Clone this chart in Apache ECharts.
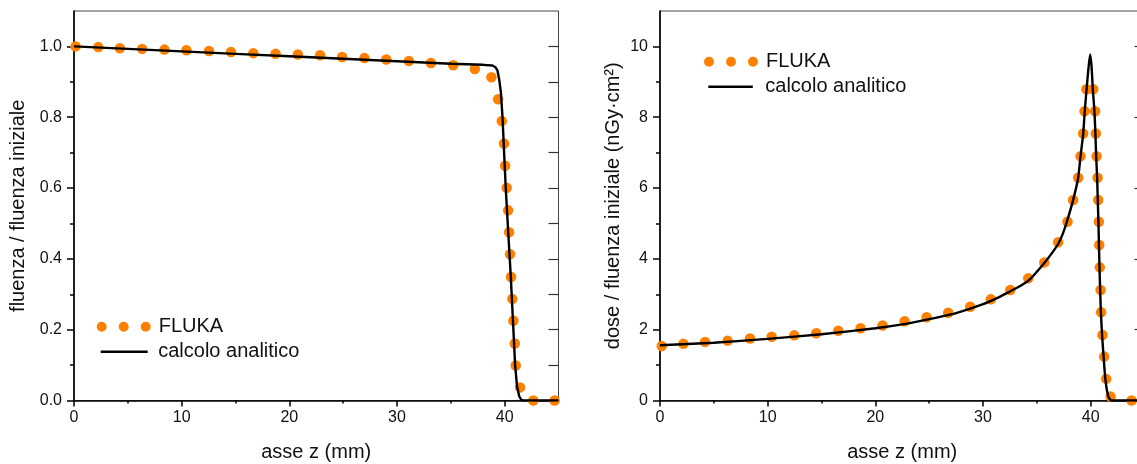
<!DOCTYPE html>
<html><head><meta charset="utf-8">
<script src="https://cdn.jsdelivr.net/npm/echarts@6/dist/echarts.min.js"></script>
<style>html,body{margin:0;padding:0;background:#fff}#c{width:1137px;height:464px}</style>
</head><body><div id="c"></div>
<script>
// ---- tick labels ----
const xTickLabels = [0, 10, 20, 30, 40];
const xMinorTicks = [5, 15, 25, 35];
const fluTickLabels = [0, 0.2, 0.4, 0.6, 0.8, 1.0];
const fluMinorTicks = [0.1, 0.3, 0.5, 0.7, 0.9];
const fluRightTicks = [0.1, 0.2, 0.3, 0.4, 0.5, 0.6, 0.7, 0.8, 0.9, 1.0];
const doseTickLabels = [0, 2, 4, 6, 8, 10];
const doseMinorTicks = [1, 3, 5, 7, 9];
const doseRightTicks = [2, 4, 6, 8, 10];

// ---- left panel: fluence ----
const flukaFluZ = [0.15,2.25,4.26,6.33,8.40,10.44,12.54,14.58,16.65,18.72,20.79,22.86,24.90,26.97,29.0,31.1,33.15,35.22,37.23,38.77,39.39,39.73,39.94,40.04,40.19,40.32,40.41,40.50,40.59,40.71,40.81,40.94,41.03,41.43,42.66,44.64];
const flukaFlu  = [1.000,0.998,0.995,0.993,0.991,0.989,0.987,0.984,0.981,0.979,0.977,0.975,0.970,0.967,0.963,0.959,0.953,0.947,0.936,0.913,0.851,0.789,0.726,0.663,0.601,0.537,0.475,0.413,0.349,0.287,0.225,0.161,0.099,0.037,0,0];
const analFluZ = [0,5,10,15,20,25,30,35,38,38.86,39.15,39.33,39.5,39.65,39.8,39.95,40.10,40.33,40.57,40.77,40.97,41.15,41.35,41.55,41.75,45];
const analFlu  = [1.000,0.993,0.986,0.979,0.972,0.965,0.958,0.951,0.948,0.946,0.941,0.932,0.905,0.87,0.80,0.70,0.60,0.475,0.35,0.225,0.10,0.04,0.012,0.002,0,0];

// ---- right panel: dose ----
const flukaDoseZ = [0.16,2.17,4.18,6.28,8.36,10.37,12.47,14.51,16.56,18.63,20.67,22.72,24.76,26.77,28.81,30.73,32.53,34.2,35.69,36.98,37.85,38.37,38.84,39.06,39.30,39.43,39.6,40.24,40.41,40.48,40.55,40.64,40.70,40.76,40.80,40.85,40.92,40.97,41.10,41.25,41.44,41.85,43.8];
const flukaDose  = [1.54,1.60,1.655,1.69,1.75,1.80,1.84,1.90,1.97,2.04,2.12,2.24,2.35,2.48,2.65,2.86,3.12,3.45,3.90,4.47,5.05,5.66,6.29,6.90,7.54,8.17,8.79,8.79,8.17,7.54,6.90,6.29,5.66,5.05,4.39,3.76,3.12,2.49,1.85,1.24,0.61,0.11,0];
const analDoseZ = [0,5,10,15,20,22.5,25,27.5,30,31.5,32.5,33.5,34.35,35.6,36.3,36.98,37.4,37.76,38.37,38.84,39.06,39.31,39.45,39.62,39.8,39.95,40.08,40.2,40.35,40.44,40.51,40.6,40.66,40.72,40.77,40.82,40.88,40.95,41.06,41.2,41.36,41.6,41.8,41.95,45];
const analDose  = [1.56,1.63,1.74,1.87,2.04,2.15,2.30,2.47,2.72,2.92,3.08,3.24,3.42,3.85,4.12,4.42,4.70,5.02,5.66,6.29,6.90,7.54,8.17,8.79,9.4,9.77,9.45,8.79,8.17,7.54,6.9,6.29,5.66,5.05,4.39,3.76,3.12,2.49,1.85,1.24,0.61,0.15,0.03,0,0];

const zip = (a, b) => a.map((v, i) => [v, b[i]]);
const FONT = '"Liberation Sans", Arial, sans-serif';
const TXT = '#111';
const ORANGE = '#ff8000';
const DOTS = 'path://M0,5a5,5 0 1,0 10,0a5,5 0 1,0 -10,0Z M22,5a5,5 0 1,0 10,0a5,5 0 1,0 -10,0Z M44,5a5,5 0 1,0 10,0a5,5 0 1,0 -10,0Z';

function gridBox(left, show) {
  return { left: left, top: 11, width: 484.5, height: 389.5, show: show, borderColor: '#444', borderWidth: 1, backgroundColor: 'transparent', containLabel: false, outerBoundsMode: 'none' };
}
function mainX(g) {
  return { type: 'value', gridIndex: g, min: 0, max: 45, interval: 10, position: 'bottom',
    axisLine: { show: true, onZero: false, lineStyle: { color: '#000', width: 1.6 } },
    axisTick: { show: true, customValues: xTickLabels, length: 6, lineStyle: { color: '#000', width: 1.5 } },
    axisLabel: { customValues: xTickLabels, fontSize: 16, color: TXT, margin: 9, fontFamily: FONT },
    splitLine: { show: false },
    name: 'asse z (mm)', nameLocation: 'middle', nameGap: 42, nameMoveOverlap: false,
    nameTextStyle: { fontSize: 20, color: TXT, fontFamily: FONT } };
}
function minorX(g) {
  return { type: 'value', gridIndex: g, min: 0, max: 45, interval: 5, position: 'bottom',
    axisLine: { show: false, onZero: false },
    axisTick: { show: true, customValues: xMinorTicks, length: 3, lineStyle: { color: '#000', width: 1.5 } },
    axisLabel: { show: false }, splitLine: { show: false } };
}
function mainY(g, max, interval, ticks, fmt, name, gap) {
  return { type: 'value', gridIndex: g, min: 0, max: max, interval: interval, position: 'left',
    axisLine: { show: true, onZero: false, lineStyle: { color: '#000', width: 1.6 } },
    axisTick: { show: true, customValues: ticks, length: 7, lineStyle: { color: '#000', width: 1.5 } },
    axisLabel: { customValues: ticks, fontSize: 16, color: TXT, margin: 12, fontFamily: FONT, formatter: fmt },
    splitLine: { show: false },
    name: name, nameLocation: 'middle', nameGap: gap, nameMoveOverlap: false,
    nameTextStyle: { fontSize: 20, color: TXT, fontFamily: FONT } };
}
function minorY(g, max, ticks) {
  return { type: 'value', gridIndex: g, min: 0, max: max, position: 'left',
    axisLine: { show: false, onZero: false },
    axisTick: { show: true, customValues: ticks, length: 4, lineStyle: { color: '#000', width: 1.5 } },
    axisLabel: { show: false }, splitLine: { show: false } };
}
function rightY(g, max, ticks) {
  return { type: 'value', gridIndex: g, min: 0, max: max, position: 'right',
    axisLine: { show: false, onZero: false },
    axisTick: { show: true, inside: true, customValues: ticks, length: 10, lineStyle: { color: '#333', width: 1.2 } },
    axisLabel: { show: false }, splitLine: { show: false } };
}
function legendBox(name, left, top, icon, w, h, pad) {
  return { data: [name], left: left, top: top, orient: 'vertical', icon: icon, itemWidth: w, itemHeight: h,
    padding: 0, selectedMode: false,
    textStyle: { fontSize: 20, color: TXT, fontFamily: FONT, lineHeight: 20, padding: [0, 0, 0, pad] } };
}

const chart = echarts.init(document.getElementById('c'), null, { renderer: 'canvas' });
chart.setOption({
  animation: false,
  backgroundColor: '#fff',
  grid: [gridBox(74, true), gridBox(74, false), gridBox(660, true), gridBox(660, false)],
  xAxis: [mainX(0), minorX(1), mainX(2), minorX(3)],
  yAxis: [
    mainY(0, 1.1, 0.2, fluTickLabels, v => v.toFixed(1), 'fluenza / fluenza iniziale', 46),
    rightY(0, 1.1, fluRightTicks),
    minorY(1, 1.1, fluMinorTicks),
    mainY(2, 11, 2, doseTickLabels, v => String(v), 'dose / fluenza iniziale (nGy·cm²)', 37),
    rightY(2, 11, doseRightTicks),
    minorY(3, 11, doseMinorTicks)
  ],
  legend: [
    legendBox('FLUKA', 96.7, 316.7, DOTS, 54, 10, 3),
    legendBox('calcolo analitico', 100.7, 341.7, 'rect', 47, 2.6, 5.5),
    legendBox('FLUKA', 704, 51.7, DOTS, 54, 10, 3),
    legendBox('calcolo analitico', 708.3, 76.7, 'rect', 44.5, 2.6, 7.5)
  ],
  series: [
    { name: 'FLUKA', type: 'scatter', xAxisIndex: 0, yAxisIndex: 0, data: zip(flukaFluZ, flukaFlu),
      symbol: 'circle', symbolSize: 10.5, itemStyle: { color: ORANGE, opacity: 1 }, z: 2, clip: false },
    { name: 'calcolo analitico', type: 'line', xAxisIndex: 0, yAxisIndex: 0, data: zip(analFluZ, analFlu),
      showSymbol: false, symbol: 'none', smooth: false, lineStyle: { color: '#000', width: 2.4 }, itemStyle: { color: '#000' }, z: 3 },
    { name: 'FLUKA', type: 'scatter', xAxisIndex: 2, yAxisIndex: 3, data: zip(flukaDoseZ, flukaDose),
      symbol: 'circle', symbolSize: 10.5, itemStyle: { color: ORANGE, opacity: 1 }, z: 2, clip: false },
    { name: 'calcolo analitico', type: 'line', xAxisIndex: 2, yAxisIndex: 3, data: zip(analDoseZ, analDose),
      showSymbol: false, symbol: 'none', smooth: 0.15, lineStyle: { color: '#000', width: 2.4 }, itemStyle: { color: '#000' }, z: 3 }
  ]
});
</script></body></html>
